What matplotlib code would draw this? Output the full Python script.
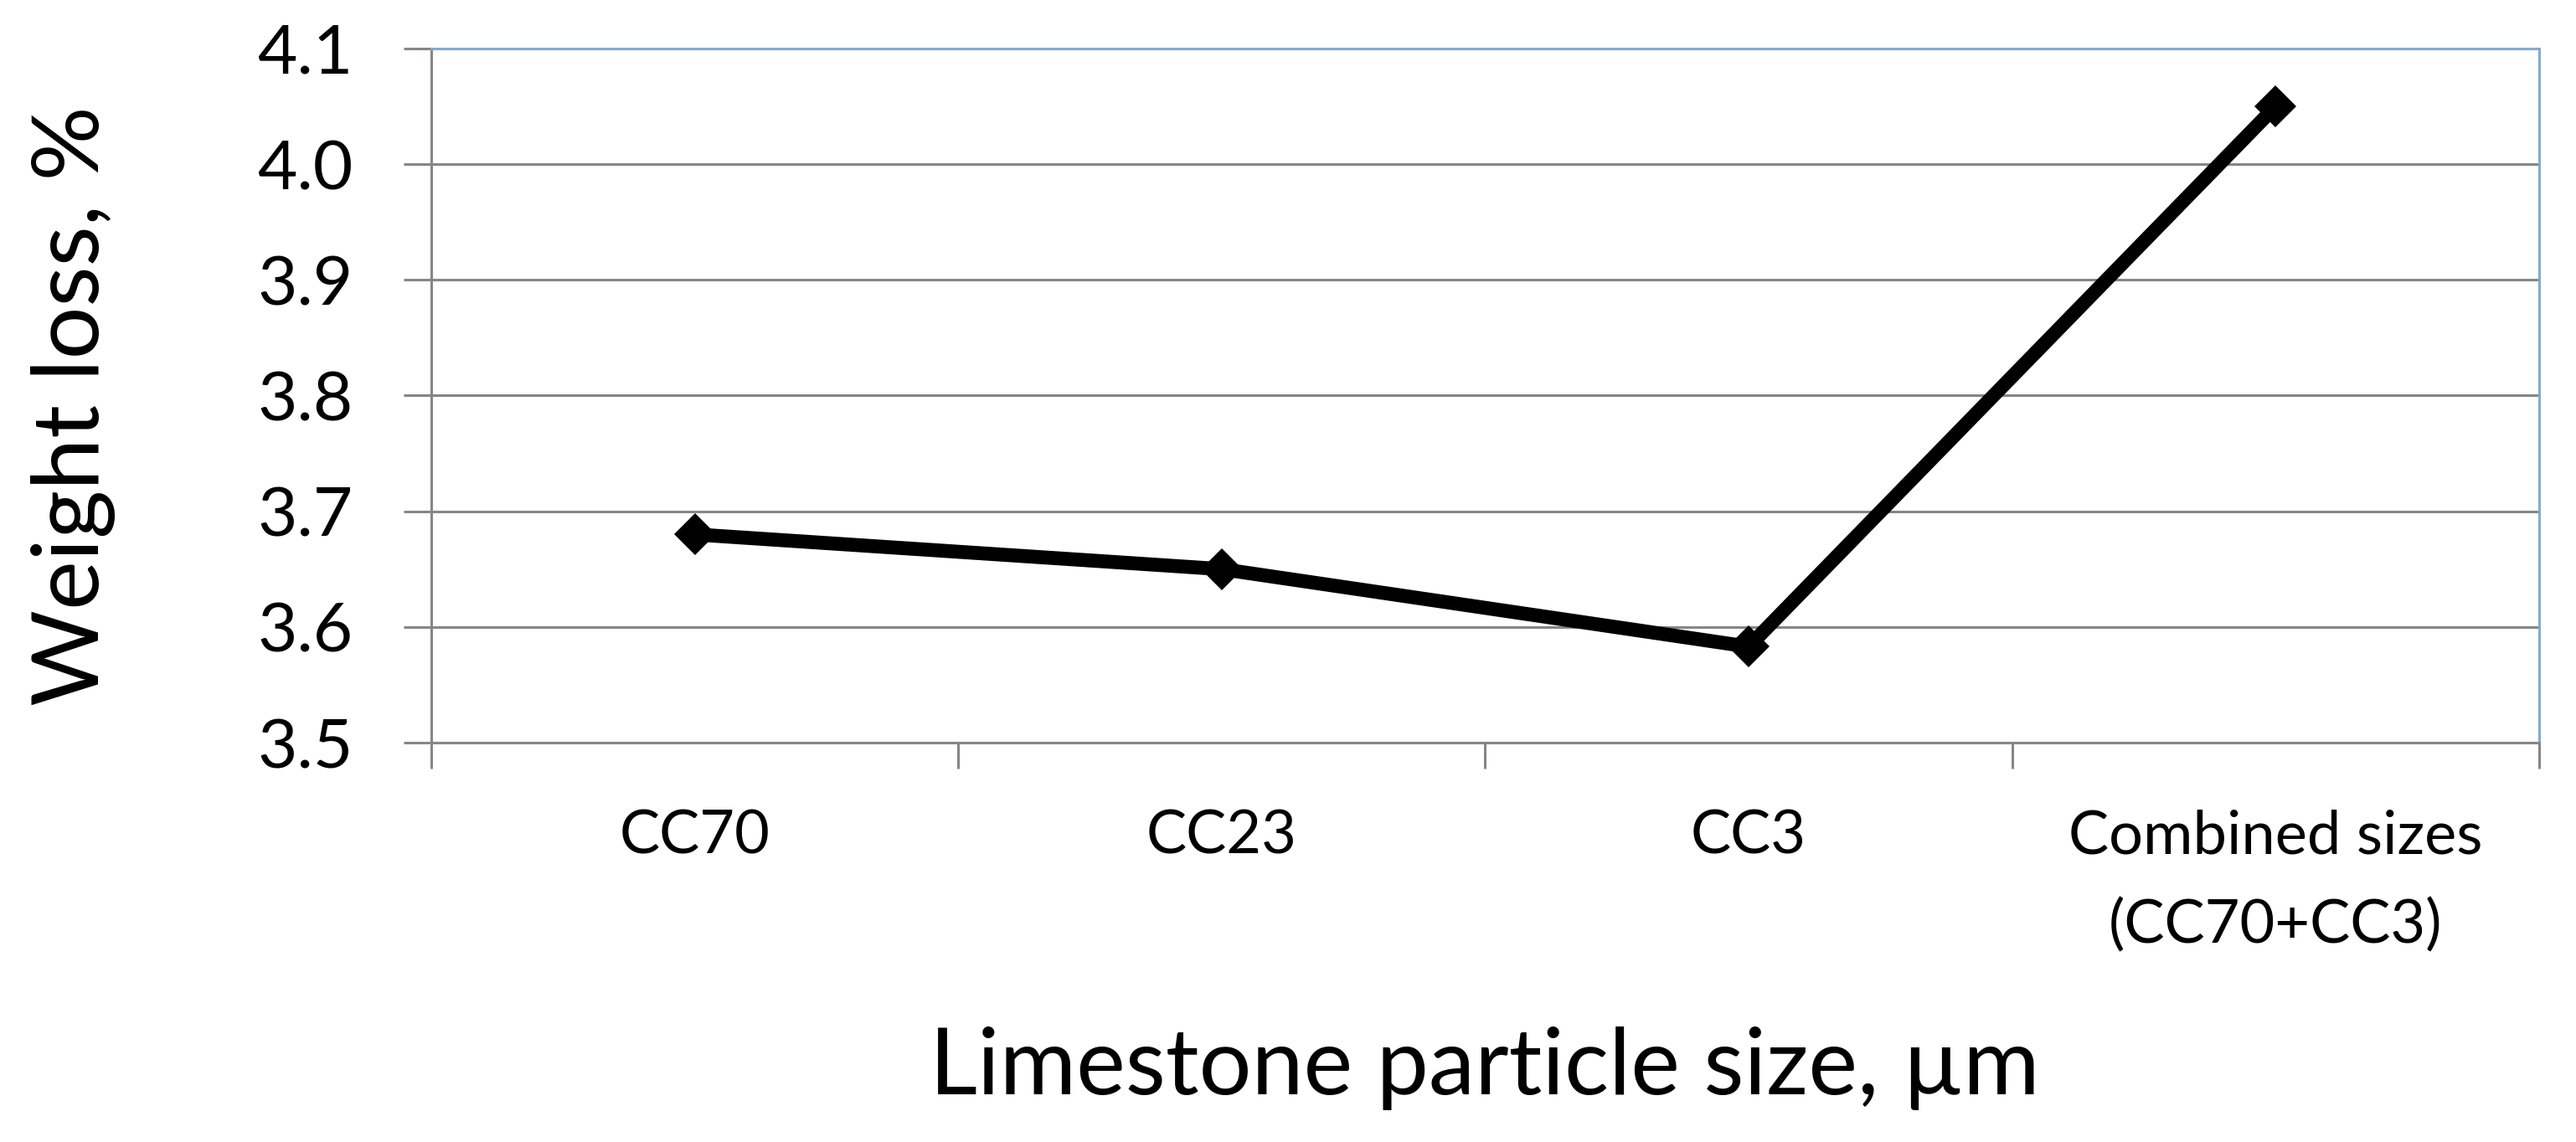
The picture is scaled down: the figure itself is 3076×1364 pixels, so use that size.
import numpy as np
import matplotlib
matplotlib.use('Agg')
import matplotlib.pyplot as plt

categories = ['CC70', 'CC23', 'CC3', 'Combined sizes\n(CC70+CC3)']
weight_loss = [3.68, 3.65, 3.583, 4.05]
y_ticks = [3.5, 3.6, 3.7, 3.8, 3.9, 4.0, 4.1]
x_title = 'Limestone particle size, µm'
y_title = 'Weight loss, %'

plt.rcParams['font.family'] = ['Lato', 'DejaVu Sans']

grid_color = '#868686'
border_color = '#86aacc'

fig = plt.figure(figsize=(30.76, 13.64), dpi=100)
ax = fig.add_axes([0.1674, 0.3497, 0.8183, 0.6078])

x = np.arange(len(categories)) + 0.5
ax.plot(x, weight_loss, color='black', linewidth=12, marker='D',
        markersize=25, markeredgewidth=0, solid_joinstyle='miter', zorder=5)

ax.set_xlim(0, len(categories))
ax.set_ylim(y_ticks[0], y_ticks[-1])
ax.set_yticks(y_ticks)
ax.set_yticklabels([f'{v:.1f}' for v in y_ticks])

# границы категорий - большие тики, подписи - на малых
ax.set_xticks(np.arange(len(categories) + 1))
ax.set_xticklabels([])
ax.set_xticks(x, minor=True)
ax.set_xticklabels(categories, minor=True, fontsize=52, linespacing=1.75)

ax.yaxis.grid(True, color=grid_color, linewidth=2.2)
ax.set_axisbelow(True)

ax.tick_params(axis='y', which='major', length=24, width=2.2, color=grid_color,
               pad=43, labelsize=59)
ax.tick_params(axis='x', which='major', length=22, width=2.2, color=grid_color)
ax.tick_params(axis='x', which='minor', length=0, pad=57)

for side in ['left', 'bottom']:
    ax.spines[side].set_color(grid_color)
    ax.spines[side].set_linewidth(2.2)
for side in ['top', 'right']:
    ax.spines[side].set_color(border_color)
    ax.spines[side].set_linewidth(2.2)

fig.text(0.5764, 0.0418, x_title, ha='center', va='baseline', fontsize=80)
fig.text(0.0384, 0.6444, y_title, rotation=90, rotation_mode='anchor',
         ha='center', va='baseline', fontsize=80)

plt.savefig('out.png', dpi=100)
plt.close()
